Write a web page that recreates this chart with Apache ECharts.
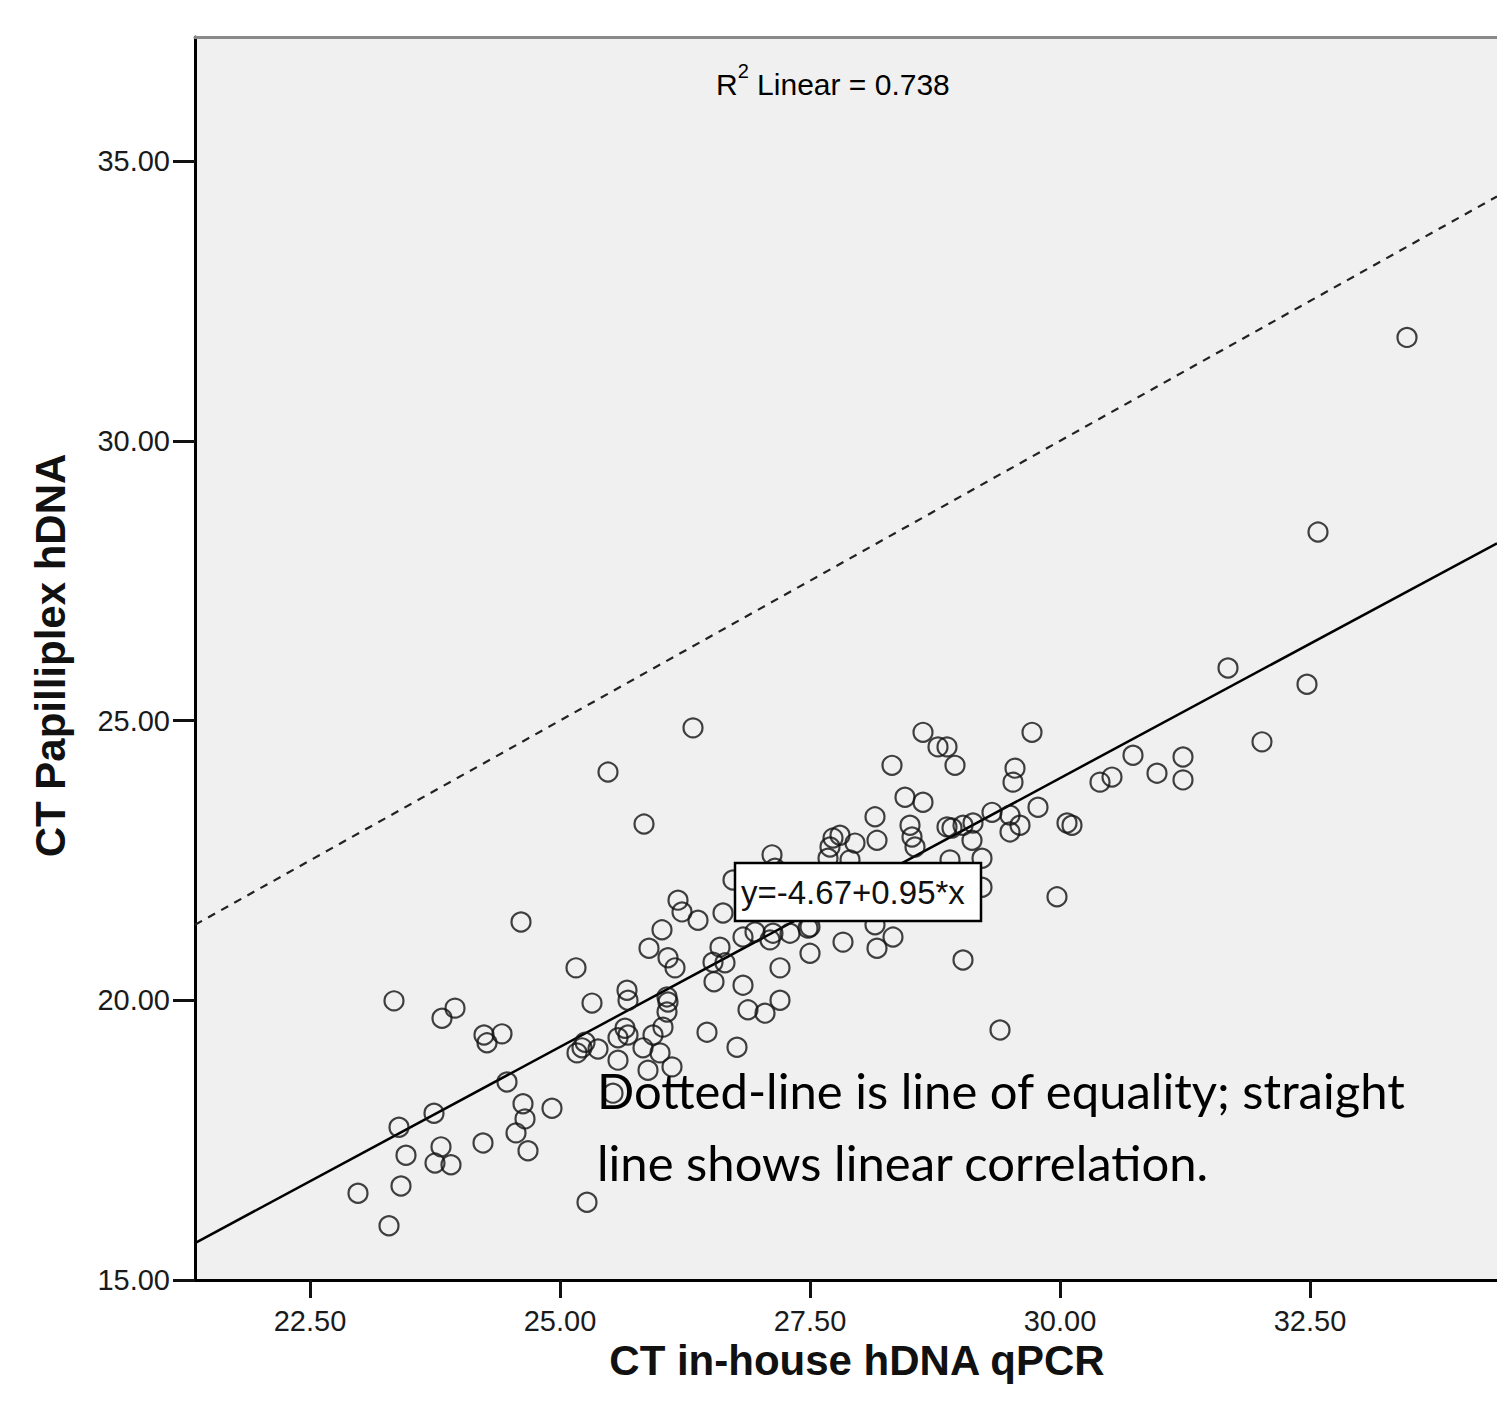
<!DOCTYPE html>
<html>
<head>
<meta charset="utf-8">
<title>CT Papilliplex vs in-house hDNA qPCR</title>
<script src="https://cdn.jsdelivr.net/npm/echarts@6/dist/echarts.min.js"></script>
<style>
  html, body { margin: 0; padding: 0; background: #fff; overflow: hidden; }
  #chart { width: 1497px; height: 1411px; }
</style>
</head>
<body>
<div id="chart"></div>
<script>
// tick values shown on each axis
const xTicks = [22.5, 25, 27.5, 30, 32.5]
const yTicks = [15, 20, 25, 30, 35]

// [CT in-house hDNA qPCR, CT Papilliplex hDNA]
const points = [
  [23.34, 19.99], [23.82, 19.68], [23.95, 19.86], [24.24, 19.38], [24.42, 19.40],
  [24.27, 19.24], [25.16, 20.58], [25.32, 19.95], [25.17, 19.06], [25.22, 19.15],
  [25.38, 19.13], [25.25, 19.25], [24.47, 18.54], [23.74, 17.98], [23.39, 17.73],
  [24.63, 18.15], [24.65, 17.88], [24.56, 17.63], [24.68, 17.31], [24.92, 18.07],
  [24.23, 17.45], [23.46, 17.23], [23.81, 17.38], [23.75, 17.09], [23.91, 17.06],
  [22.98, 16.55], [23.41, 16.68], [23.29, 15.97], [25.27, 16.39], [24.61, 21.40],
  [25.67, 20.18], [25.68, 20.00], [26.02, 21.26], [25.89, 20.93], [26.08, 20.76],
  [26.15, 20.58], [26.22, 21.58], [26.38, 21.43], [26.63, 21.56], [26.18, 21.79],
  [26.07, 20.06], [26.08, 19.97], [26.07, 19.79], [26.60, 20.95], [26.53, 20.68],
  [26.65, 20.67], [26.54, 20.33], [26.83, 20.27], [27.20, 20.58], [27.20, 20.00],
  [26.88, 19.83], [27.05, 19.77], [26.47, 19.43], [26.77, 19.16], [27.50, 20.84],
  [25.65, 19.50], [25.68, 19.38], [25.58, 19.33], [25.93, 19.38], [26.03, 19.52],
  [25.83, 19.15], [26.00, 19.06], [25.58, 18.93], [25.88, 18.75], [26.12, 18.81],
  [25.53, 18.34], [26.33, 24.87], [25.48, 24.08], [25.84, 23.15], [27.12, 22.60],
  [28.63, 24.79], [28.78, 24.53], [28.87, 24.53], [28.95, 24.20], [29.72, 24.79],
  [28.32, 24.20], [29.55, 24.15], [29.53, 23.90], [28.45, 23.63], [28.63, 23.54],
  [28.15, 23.28], [28.17, 22.86], [27.73, 22.90], [27.80, 22.95], [27.95, 22.81],
  [27.70, 22.74], [28.50, 23.13], [28.52, 22.92], [28.55, 22.74], [28.87, 23.10],
  [28.92, 23.08], [29.03, 23.13], [29.13, 23.17], [29.12, 22.86], [29.22, 22.54],
  [29.32, 23.36], [29.50, 23.31], [29.60, 23.13], [29.50, 23.01], [29.78, 23.45],
  [30.07, 23.17], [30.12, 23.13], [29.22, 22.02], [29.97, 21.85], [27.83, 21.04],
  [28.17, 20.93], [28.33, 21.13], [28.15, 21.35], [27.50, 21.31], [29.03, 20.72],
  [29.40, 19.47], [26.73, 22.15], [26.83, 21.13], [26.95, 21.22], [27.13, 21.20],
  [27.30, 21.20], [27.48, 21.29], [27.10, 21.08], [27.68, 22.54], [27.90, 22.51],
  [28.90, 22.51], [27.15, 22.36], [30.40, 23.90], [30.52, 23.99], [30.73, 24.38],
  [30.97, 24.06], [31.23, 24.35], [31.23, 23.94], [31.68, 25.94], [32.02, 24.62],
  [32.47, 25.65], [32.58, 28.37], [33.47, 31.85]
]

// straight line (linear fit) and dotted line of equality, end points as read
const fitLine = [[21.35, 15.66], [34.37, 28.17]]
const equalityLine = [[21.35, 21.35], [34.37, 34.37]]

const rSquared = '0.738'
const fitEquation = 'y=-4.67+0.95*x'
const noteLines = ['Dotted-line is line of equality; straight', 'line shows linear correlation.']

const xTitle = 'CT in-house hDNA qPCR'
const yTitle = 'CT Papilliplex hDNA'

const axisFont = 'Liberation Sans, Arial, sans-serif'
const xMin = 21.35
const xMax = 34.37   // plot is cut off at the right edge of the picture

const chart = echarts.init(document.getElementById('chart'), null, { renderer: 'svg' })

const option = {
  animation: false,
  backgroundColor: '#ffffff',
  grid: {
    left: 195,
    right: 0,
    top: 37,
    bottom: 131,
    show: true,
    backgroundColor: '#f0f0f0',
    borderWidth: 0
  },
  xAxis: [
    {
      type: 'value',
      min: xMin,
      max: xMax,
      name: xTitle,
      nameLocation: 'middle',
      nameGap: 51,
      nameTextStyle: {
        fontFamily: axisFont,
        fontWeight: 'bold',
        fontSize: 42,
        color: '#111',
        padding: [0, 0, 0, 22]
      },
      axisLine: { show: true, onZero: false, lineStyle: { color: '#000', width: 3 } },
      axisTick: { show: true, customValues: xTicks, length: 18, lineStyle: { color: '#111', width: 3 } },
      axisLabel: {
        customValues: xTicks,
        margin: 26,
        fontFamily: axisFont,
        fontSize: 29,
        color: '#1a1a1a',
        formatter: v => v.toFixed(2)
      },
      splitLine: { show: false }
    },
    {
      // grey frame line along the top of the plot
      type: 'value',
      position: 'top',
      min: xMin,
      max: xMax,
      axisLine: { show: true, onZero: false, lineStyle: { color: '#8a8a8a', width: 3 } },
      axisTick: { show: false },
      axisLabel: { show: false },
      splitLine: { show: false }
    }
  ],
  yAxis: {
    type: 'value',
    min: 15,
    max: 37.22,
    name: yTitle,
    nameLocation: 'middle',
    nameRotate: 90,
    nameGap: 124,
    nameTextStyle: {
      fontFamily: axisFont,
      fontWeight: 'bold',
      fontSize: 42,
      color: '#111',
      padding: [0, 0, 0, 6]
    },
    axisLine: { show: true, onZero: false, lineStyle: { color: '#000', width: 3 } },
    axisTick: { show: true, customValues: yTicks, length: 22, lineStyle: { color: '#111', width: 3 } },
    axisLabel: {
      customValues: yTicks,
      margin: 25,
      fontFamily: axisFont,
      fontSize: 29,
      color: '#1a1a1a',
      formatter: v => v.toFixed(2)
    },
    splitLine: { show: false }
  },
  series: [
    {
      type: 'line',
      data: equalityLine,
      showSymbol: false,
      silent: true,
      z: 3,
      lineStyle: { color: '#222', width: 2.2, type: [8, 7] }
    },
    {
      type: 'line',
      data: fitLine,
      showSymbol: false,
      silent: true,
      z: 3,
      lineStyle: { color: '#000', width: 2.5 }
    },
    {
      type: 'scatter',
      data: points,
      symbol: 'circle',
      symbolSize: 19,
      z: 4,
      itemStyle: { color: 'rgba(0,0,0,0)', borderColor: '#111', borderWidth: 2.2 }
    }
  ],
  graphic: [
    {
      type: 'text',
      left: 716,
      top: 61,
      z: 100,
      style: {
        text: '{a|R}{s|2}{a| Linear = ' + rSquared + '}',
        rich: {
          a: { fontFamily: axisFont, fontSize: 30, color: '#111', verticalAlign: 'bottom', padding: [8, 0, 0, 0] },
          s: { fontFamily: axisFont, fontSize: 20, color: '#111', verticalAlign: 'top' }
        }
      }
    },
    {
      type: 'rect',
      z: 100,
      shape: { x: 735, y: 863, width: 246, height: 58 },
      style: { fill: '#ffffff', stroke: '#000', lineWidth: 2.5 }
    },
    {
      type: 'text',
      z: 101,
      x: 741,
      y: 892,
      style: {
        text: fitEquation,
        fontFamily: axisFont,
        fontSize: 33,
        fill: '#111',
        verticalAlign: 'middle'
      }
    },
    {
      type: 'text',
      z: 101,
      x: 597,
      y: 1090,
      style: {
        text: noteLines[0],
        fontFamily: 'Lato, sans-serif',
        fontSize: 49,
        fill: '#000',
        verticalAlign: 'middle'
      }
    },
    {
      type: 'text',
      z: 101,
      x: 597,
      y: 1162,
      style: {
        text: noteLines[1],
        fontFamily: 'Lato, sans-serif',
        fontSize: 49,
        fill: '#000',
        verticalAlign: 'middle'
      }
    }
  ]
}

chart.setOption(option)
</script>
</body>
</html>
